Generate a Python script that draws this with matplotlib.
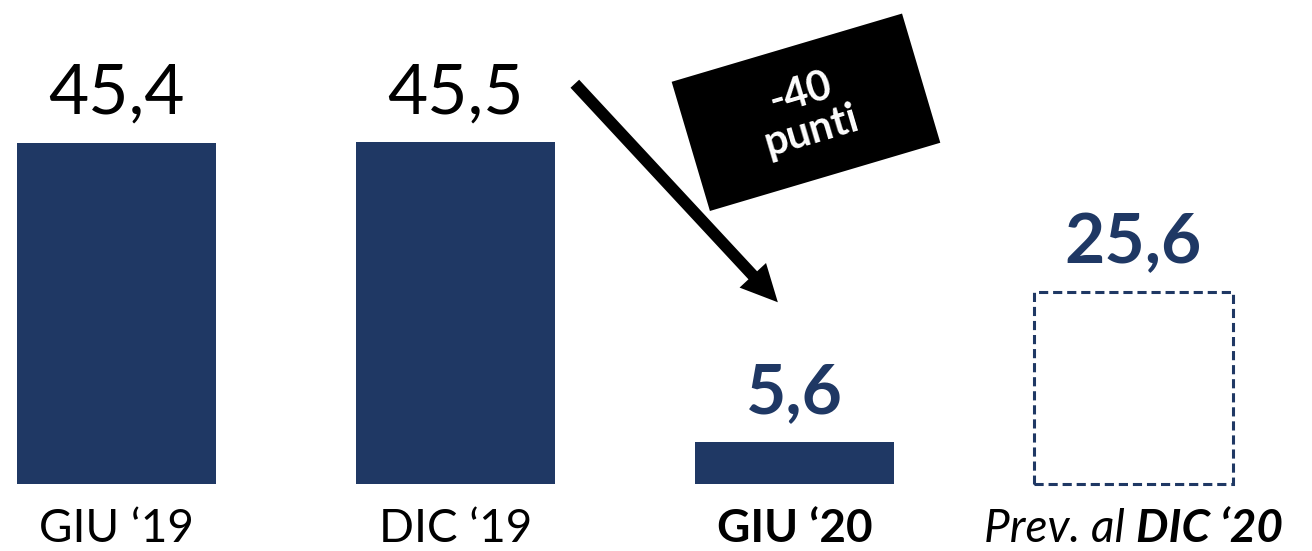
import matplotlib.pyplot as plt
import matplotlib.transforms as mtransforms
from matplotlib.patches import FancyArrowPatch, Rectangle

# dati
periodi = ['GIU \u201819', 'DIC \u201819', 'GIU \u201820', 'DIC \u201820']
valori = [45.4, 45.5, 5.6, 25.6]
etichette = ['45,4', '45,5', '5,6', '25,6']
variazione = '-40\npunti'

blu = '#1F3864'
plt.rcParams['font.family'] = ['Lato', 'DejaVu Sans']

fig = plt.figure(figsize=(13.12, 5.51), dpi=100)
ax = fig.add_axes([0, 0, 1, 1])
x = range(len(valori))

# barre piene per i valori consuntivi, riquadro tratteggiato per la previsione
ax.bar(x[:3], valori[:3], width=0.587, color=blu)
ax.bar(x[3], valori[3], width=0.587, fill=False, edgecolor=blu,
       linewidth=2.2, linestyle=(0, (3, 1.6)))

ax.set_xlim(-0.344, 3.527)
ax.set_ylim(-8.92, 64.45)
ax.axis('off')

# valori sopra le barre
for i, (v, t) in enumerate(zip(valori, etichette)):
    bold = i >= 2
    ax.annotate(t, (i, v), xytext=(0, 21), textcoords='offset points',
                ha='center', va='baseline', fontsize=50,
                fontweight='bold' if bold else 'normal',
                color=blu if bold else 'black')

# etichette asse x
yl = -7.7
fs = 33
ax.text(0, yl, periodi[0], ha='center', va='baseline', fontsize=fs)
ax.text(1, yl, periodi[1], ha='center', va='baseline', fontsize=fs)
ax.text(2, yl, periodi[2], ha='center', va='baseline', fontsize=fs,
        fontweight='bold')

# ultima etichetta: parte normale + parte in grassetto, centrate insieme
r = fig.canvas.get_renderer()
t1 = ax.text(3, yl, 'Prev. al ', ha='left', va='baseline', fontsize=fs,
             style='italic')
t2 = ax.text(3, yl, periodi[3], ha='left', va='baseline', fontsize=fs,
             style='italic', fontweight='bold')
w1 = t1.get_window_extent(r).width
w2 = t2.get_window_extent(r).width
px_unit = ax.transData.transform((1, 0))[0] - ax.transData.transform((0, 0))[0]
start = 3 - (w1 + w2) / 2 / px_unit
t1.set_x(start)
t2.set_x(start + w1 / px_unit)

# freccia del calo
ax.add_patch(FancyArrowPatch((1.352, 53.3), (1.951, 24.2),
                             arrowstyle='simple,head_length=0.53,head_width=0.52,tail_width=0.17',
                             mutation_scale=50, color='black', lw=0,
                             shrinkA=0, shrinkB=0))

# riquadro nero ruotato con la variazione (dimensioni in punti)
cx, cy = 2.034, 49.5
angolo = 16.5
box_w, box_h = 173, 97
trans = (mtransforms.Affine2D().scale(fig.dpi / 72).rotate_deg(angolo)
         + mtransforms.Affine2D().translate(*ax.transData.transform((cx, cy))))
ax.add_patch(Rectangle((-box_w / 2, -box_h / 2), box_w, box_h,
                       transform=trans, fc='black', ec='none', zorder=3,
                       clip_on=False))
ax.text(cx, cy, variazione, ha='center', va='center', rotation=angolo,
        rotation_mode='anchor', color='white', fontsize=30, fontweight='bold',
        linespacing=1.05, zorder=4)

fig.savefig('out.png', dpi=100)
